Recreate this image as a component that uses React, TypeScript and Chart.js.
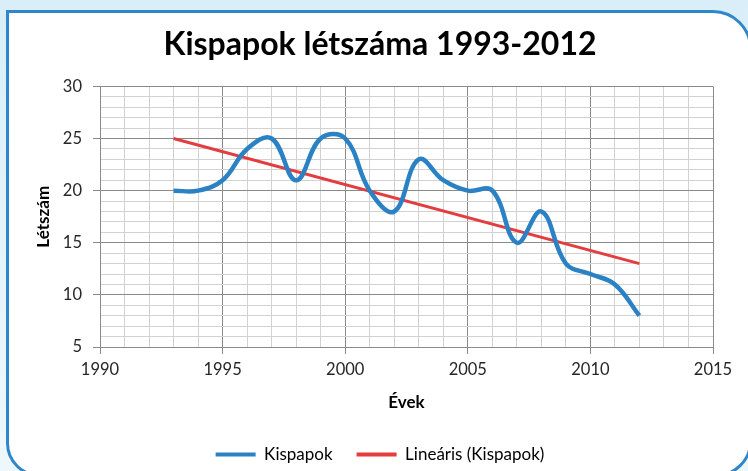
import React, { useEffect, useRef } from 'react';
import { Chart, registerables } from 'chart.js';

Chart.register(...registerables);

// ---- data ----
const years = [1993, 1994, 1995, 1996, 1997, 1998, 1999, 2000, 2001, 2002, 2003, 2004, 2005, 2006, 2007, 2008, 2009, 2010, 2011, 2012];
const kispapok = [20, 20, 21, 24, 25, 21, 25, 25, 20, 18, 23, 21, 20, 20, 15, 18, 13, 12, 11, 8];
const trendYears = [1993, 2012];
const trendValues = [25, 13];

const xMin = 1990;
const xMax = 2015;
const yMin = 5;
const yMax = 30;

const chartTitle = 'Kispapok létszáma 1993-2012';
const xTitle = 'Évek';
const yTitle = 'Létszám';
const seriesLabel = 'Kispapok';
const trendLabel = 'Lineáris (Kispapok)';

// ---- styles ----
const BLUE = '#2a82c4';
const RED = '#e33d3f';
const MAJOR = '#8a8a8a';
const MINOR = '#d2d2d2';
const TEXT = '#262626';
const FONT = 'Lato';

export default function App() {
  const ref = useRef<HTMLCanvasElement>(null);

  useEffect(() => {
    const isMajor = (c: any) => c.tick && Math.round(c.tick.value) % 5 === 0;
    const chart = new Chart(ref.current as HTMLCanvasElement, {
      type: 'line',
      data: {
        datasets: [
          {
            label: seriesLabel,
            data: years.map((x, i) => ({ x, y: kispapok[i] })),
            borderColor: BLUE,
            backgroundColor: BLUE,
            borderWidth: 4.5,
            pointRadius: 0,
            tension: 0.4,
            fill: false,
          },
          {
            label: trendLabel,
            data: trendYears.map((x, i) => ({ x, y: trendValues[i] })),
            borderColor: RED,
            backgroundColor: RED,
            borderWidth: 3,
            pointRadius: 0,
            tension: 0,
            fill: false,
          },
        ],
      },
      options: {
        responsive: false,
        animation: false,
        devicePixelRatio: 1,
        layout: { padding: { left: 47, right: 47, top: 0, bottom: 0 } },
        plugins: {
          title: {
            display: true,
            text: chartTitle,
            color: '#000',
            font: { family: FONT, size: 32, weight: 'bold' },
            padding: { top: 25.5, bottom: 22.5 },
          },
          legend: {
            position: 'bottom',
            labels: {
              boxWidth: 40,
              boxHeight: 4,
              padding: 24,
              color: TEXT,
              font: { family: FONT, size: 17 },
              generateLabels: (ch: any) =>
                ch.data.datasets.map((ds: any, i: number) => ({
                  text: ds.label,
                  fillStyle: ds.borderColor,
                  strokeStyle: ds.borderColor,
                  lineWidth: 0,
                  hidden: false,
                  datasetIndex: i,
                })),
            },
          },
          tooltip: { enabled: false },
        },
        scales: {
          x: {
            type: 'linear',
            min: xMin,
            max: xMax,
            ticks: {
              stepSize: 1,
              autoSkip: false,
              maxRotation: 0,
              padding: 6,
              color: TEXT,
              font: { family: FONT, size: 16.5 },
              callback: (v: any) => (Math.round(v) % 5 === 0 ? String(v) : ''),
            },
            grid: {
              color: (c: any) => (isMajor(c) ? MAJOR : MINOR),
              tickColor: (c: any) => (isMajor(c) ? MAJOR : 'rgba(0,0,0,0)'),
              tickLength: 7,
            },
            border: { color: MAJOR },
            title: {
              display: true,
              text: xTitle,
              color: '#000',
              font: { family: FONT, size: 17, weight: 'bold' },
              padding: { top: 0, bottom: 9 },
            },
            afterFit: (s: any) => {
              s.height = 75;
            },
          },
          y: {
            type: 'linear',
            min: yMin,
            max: yMax,
            ticks: {
              stepSize: 1,
              autoSkip: false,
              padding: 11,
              color: TEXT,
              font: { family: FONT, size: 16.5 },
              callback: (v: any) => (Math.round(v) % 5 === 0 ? String(v) : ''),
            },
            grid: {
              color: (c: any) => (isMajor(c) ? MAJOR : MINOR),
              tickColor: (c: any) => (isMajor(c) ? MAJOR : 'rgba(0,0,0,0)'),
              tickLength: 7,
            },
            border: { color: MAJOR },
            title: {
              display: true,
              text: yTitle,
              color: '#000',
              font: { family: FONT, size: 17, weight: 'bold' },
              padding: { top: -14, bottom: 0 },
            },
            afterFit: (s: any) => {
              s.width = 53;
            },
          },
        },
      } as any,
    });
    return () => chart.destroy();
  }, []);

  return (
    <div
      style={{
        position: 'fixed',
        left: 0,
        top: 0,
        width: 748,
        height: 471,
        overflow: 'hidden',
        background: 'linear-gradient(#d9eef8, #eef8fc)',
      }}
    >
      <div
        style={{
          position: 'absolute',
          left: 6,
          top: 10,
          width: 746,
          height: 467,
          boxSizing: 'border-box',
          border: '3px solid #2f87ca',
          borderRadius: '0 39px 36px 34px',
          background: '#fff',
        }}
      />
      <canvas
        ref={ref}
        width={760}
        height={473}
        style={{ position: 'absolute', left: 0, top: 0, display: 'block' }}
      />
    </div>
  );
}
